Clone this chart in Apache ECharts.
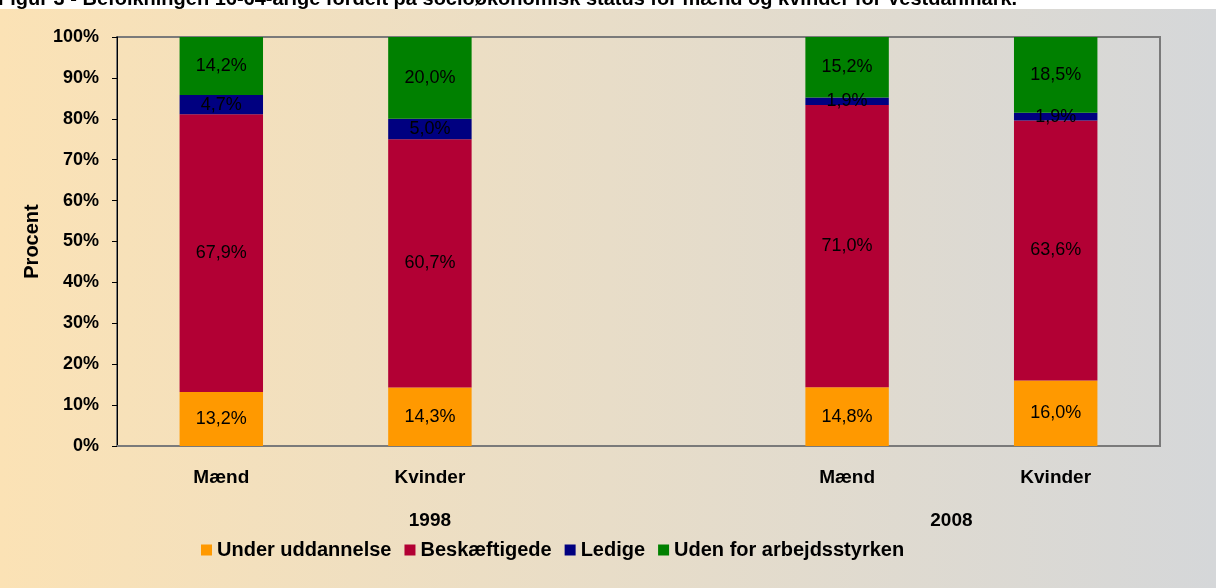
<html>
<head>
    <meta charset="utf-8">
    <title>Figur 3</title>
    <style>
        * { margin: 0; padding: 0; }
        #chart-container { position: relative; width: 1216px; height: 588px; overflow: hidden; }
    </style>
</head>
<body>
<div id="chart-container"></div>
<script src="https://cdn.jsdelivr.net/npm/echarts@6/dist/echarts.min.js"></script>
<script>
    // categories (blank slot separates the two years)
    const categories = ['Mænd', 'Kvinder', '', 'Mænd', 'Kvinder'];
    const years = ['1998', '2008'];
    const yearSpan = [3, 2]; // number of category slots per year group

    // raw values as printed on the bars (procent)
    const underUddannelse = [13.2, 14.3, null, 14.8, 16.0];
    const beskaeftigede   = [67.9, 60.7, null, 71.0, 63.6];
    const ledige          = [4.7, 5.0, null, 1.9, 1.9];
    const udenFor         = [14.2, 20.0, null, 15.2, 18.5];

    const seriesNames = ['Under uddannelse', 'Beskæftigede', 'Ledige', 'Uden for arbejdsstyrken'];
    const seriesColors = ['#FF9900', '#B20034', '#000080', '#008000'];
    const rawSeries = [underUddannelse, beskaeftigede, ledige, udenFor];

    // 100% stacked: share of each column total
    const totals = categories.map((c, i) => rawSeries.reduce((s, arr) => s + (arr[i] || 0), 0));

    const fmt = v => v.toFixed(1).replace('.', ',') + '%';

    const series = rawSeries.map((arr, k) => ({
        name: seriesNames[k],
        type: 'bar',
        stack: 'total',
        barWidth: '40%',
        itemStyle: { color: seriesColors[k] },
        label: {
            show: true,
            position: 'inside',
            color: '#000',
            fontSize: 18,
            formatter: p => fmt(arr[p.dataIndex])
        },
        data: arr.map((v, i) => v == null ? '-' : v / totals[i] * 100)
    }));

    // year group centers on a 0..N value axis
    const yearCenters = [];
    let start = 0;
    yearSpan.forEach(n => { yearCenters.push(start + n / 2); start += n; });

    var dom = document.getElementById('chart-container');
    var myChart = echarts.init(dom, null, { renderer: 'canvas' });

    var option = {
        backgroundColor: '#ffffff',
        animation: false,
        textStyle: { fontFamily: 'Liberation Sans, Arial' },
        graphic: [{
            type: 'rect',
            z: -10,
            shape: { x: 0, y: 9, width: 1216, height: 579 },
            style: {
                fill: new echarts.graphic.LinearGradient(0, 0, 1, 0, [
                    { offset: 0, color: '#FBE2B5' },
                    { offset: 0.5, color: '#E8DDC8' },
                    { offset: 1, color: '#D5D7D9' }
                ])
            }
        }, {
            // figure caption, cut off at the top edge as in the source
            type: 'text',
            x: -2,
            y: 9,
            z: 10,
            style: {
                text: 'Figur 3 - Befolkningen 16-64-årige fordelt på socioøkonomisk status for mænd og kvinder for Vestdanmark.',
                font: 'bold 20px "Liberation Sans", Arial',
                fill: '#000',
                verticalAlign: 'bottom'
            }
        }],
        legend: {
            data: seriesNames,
            left: 196,
            top: 535,
            icon: 'rect',
            itemWidth: 11,
            itemHeight: 11,
            itemGap: 13,
            textStyle: { fontSize: 20, fontWeight: 'bold', color: '#000' }
        },
        grid: {
            left: 117,
            right: 56,
            top: 37,
            bottom: 142,
            outerBoundsMode: 'none',
            show: true,
            borderColor: '#7a7a7a',
            borderWidth: 2
        },
        xAxis: [{
            type: 'category',
            data: categories,
            axisLine: { lineStyle: { color: '#7a7a7a', width: 2 } },
            axisTick: { show: false },
            axisLabel: { interval: 0, margin: 22, fontSize: 19, fontWeight: 'bold', color: '#000' }
        }, {
            type: 'value',
            position: 'bottom',
            offset: 57,
            min: 0,
            max: categories.length,
            interval: 0.5,
            axisLine: { show: false },
            axisTick: { show: false },
            splitLine: { show: false },
            axisLabel: {
                fontSize: 19, fontWeight: 'bold', color: '#000',
                showMinLabel: true, showMaxLabel: true,
                formatter: v => {
                    const idx = yearCenters.findIndex(c => Math.abs(c - v) < 1e-6);
                    return idx >= 0 ? years[idx] : '';
                }
            }
        }],
        yAxis: {
            type: 'value',
            min: 0,
            max: 100,
            interval: 10,
            name: 'Procent',
            nameLocation: 'middle',
            nameGap: 73,
            nameTextStyle: { fontSize: 20, fontWeight: 'bold', color: '#000' },
            axisLine: { show: true, lineStyle: { color: '#000', width: 1 } },
            axisTick: { show: true, length: 5, lineStyle: { color: '#000' } },
            splitLine: { show: false },
            axisLabel: { formatter: '{value}%', fontSize: 18, fontWeight: 'bold', color: '#000', margin: 18 }
        },
        series: series
    };

    myChart.setOption(option);
    window.addEventListener('resize', myChart.resize);
</script>
</body>
</html>
